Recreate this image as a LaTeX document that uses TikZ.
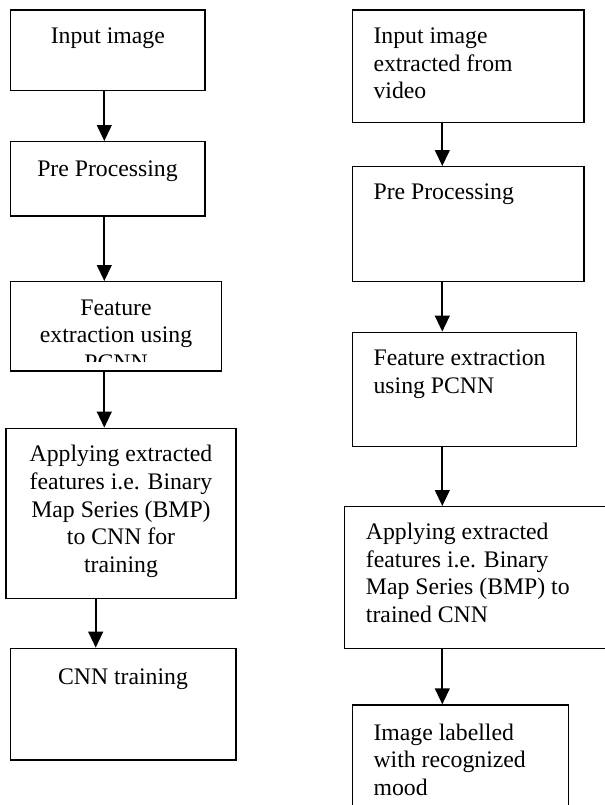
\documentclass[tikz,border=0pt]{standalone}
\usepackage{fontspec}
\setmainfont{Liberation Serif}
\usetikzlibrary{arrows.meta,fit}
\begin{document}
\begin{tikzpicture}[x=0.75pt,y=-0.75pt,
  box/.style={draw,line width=1pt,inner sep=0pt,rectangle},
  txt/.style={inner sep=0pt,font=\fontsize{17.8}{20.8}\selectfont},
  arr/.style={line width=1.6pt,-{Triangle[length=12pt,width=11pt]}}]
\useasboundingbox (0,0) rectangle (605,805);
% left column boxes
\node[box,fit={(10.7,10) (205,90.7)}] (L1) {};
\node[box,fit={(10.7,141.7) (205,216)}] (L2) {};
\node[box,fit={(10.7,281.7) (221.7,371)}] (L3) {};
\node[box,fit={(6,428.3) (236,598.7)}] (L4) {};
\node[box,fit={(10.7,648.3) (236,760)}] (L5) {};
% right column boxes
\node[box,fit={(352.3,10) (584,122.7)}] (R1) {};
\node[box,fit={(352.3,166.7) (584,281.7)}] (R2) {};
\node[box,fit={(352.3,332.3) (576.7,446.7)}] (R3) {};
\node[box,fit={(344.3,506.7) (640,648.3)}] (R4) {};
\node[box,fit={(352.3,705) (568.3,860)}] (R5) {};
% left texts (anchor base = baseline of the last line)
\node[txt,anchor=base] (tL1) at (107.8,43.3) {Input image};
\node[txt,anchor=base] (tL2) at (107.5,176.7) {Pre Processing};
\begin{scope}
\clip (10.7,281.7) rectangle (221.7,361);
\node[txt,anchor=base,align=center] (tL3) at (116,370.5) {Feature\\extraction using\\PCNN};
\end{scope}
\node[txt,anchor=base,align=center] (tL4) at (121,572.6) {Applying extracted\\features i.e. Binary\\Map Series (BMP)\\to CNN for\\training};
\node[txt,anchor=base] (tL5) at (123,684) {CNN training};
% right texts
\node[txt,anchor=base west,align=left] (tR1) at (373.3,98.8) {Input image\\extracted from\\video};
\node[txt,anchor=base west] (tR2) at (373.3,200) {Pre Processing};
\node[txt,anchor=base west,align=left] (tR3) at (373.3,393.4) {Feature extraction\\using PCNN};
\node[txt,anchor=base west,align=left] (tR4) at (365.7,622.5) {Applying extracted\\features i.e. Binary\\Map Series (BMP) to\\trained CNN};
\node[txt,anchor=base west,align=left] (tR5) at (373.3,795.5) {Image labelled\\with recognized\\mood};
% arrows
\coordinate (cl) at (104.3,0);
\coordinate (cl2) at (95.7,0);
\coordinate (cr) at (442.3,0);
\draw[arr] (L1.south -| cl) -- (L2.north -| cl);
\draw[arr] (L2.south -| cl) -- (L3.north -| cl);
\draw[arr] (L3.south -| cl) -- (L4.north -| cl);
\draw[arr] (L4.south -| cl2) -- (L5.north -| cl2);
\draw[arr] (R1.south -| cr) -- (R2.north -| cr);
\draw[arr] (R2.south -| cr) -- (R3.north -| cr);
\draw[arr] (R3.south -| cr) -- (R4.north -| cr);
\draw[arr] (R4.south -| cr) -- (R5.north -| cr);
\end{tikzpicture}
\end{document}
